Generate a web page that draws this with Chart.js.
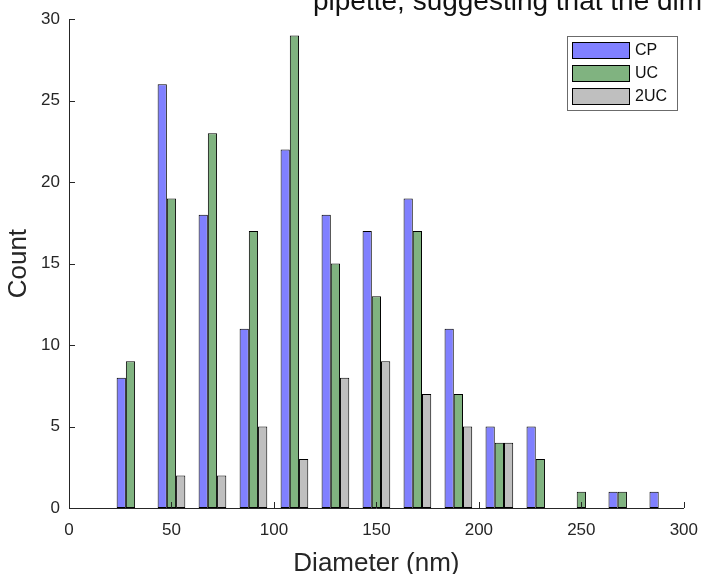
<!DOCTYPE html>
<html>
<head>
<meta charset="utf-8">
<style>
html,body{margin:0;padding:0;background:#fff;}
#wrap{width:710px;height:574px;position:relative;overflow:hidden;}
</style>
<script src="https://cdn.jsdelivr.net/npm/chart.js@4.4.1/dist/chart.umd.min.js"></script>
</head>
<body>
<div id="wrap"><canvas id="c" width="710" height="574"></canvas></div>
<script>
// ---- data ----
const binCenters = [10, 30, 50, 70, 90, 110, 130, 150, 170, 190, 210, 230, 250, 270, 290];
const cpCounts   = [0, 8, 26, 18, 11, 22, 18, 17, 19, 11, 5, 5, 0, 1, 1];
const ucCounts   = [0, 9, 19, 23, 17, 29, 15, 13, 17, 7, 4, 3, 1, 1, 0];
const uc2Counts  = [0, 0, 2, 2, 5, 3, 8, 9, 7, 5, 4, 0, 0, 0, 0];
const seriesNames = ['CP', 'UC', '2UC'];
const xTickValues = [0, 50, 100, 150, 200, 250, 300];
const yTickValues = [0, 5, 10, 15, 20, 25, 30];
const xTitle = 'Diameter (nm)';
const yTitle = 'Count';
const topText = 'pipette, suggesting that the dim';

// ---- styles ----
const FONT = "'Liberation Sans', Arial, Helvetica, sans-serif";
const axisColor = '#262626';
const fills = ['#8080ff', '#80b380', '#bfbfbf'];

function toPoints(vals) { return binCenters.map((c, i) => ({ x: c, y: vals[i] })); }

const decor = {
  id: 'decor',
  afterDraw(chart) {
    const { ctx, chartArea: a, scales: { x, y } } = chart;
    ctx.save();
    // inward ticks
    ctx.strokeStyle = axisColor;
    ctx.lineWidth = 1;
    ctx.beginPath();
    yTickValues.forEach(v => {
      const p = Math.round(y.getPixelForValue(v)) + 0.5;
      ctx.moveTo(a.left, p); ctx.lineTo(a.left + 6, p);
    });
    xTickValues.forEach(v => {
      const p = Math.round(x.getPixelForValue(v)) + 0.5;
      ctx.moveTo(p, a.bottom); ctx.lineTo(p, a.bottom - 6);
    });
    ctx.stroke();

    // axis titles
    ctx.fillStyle = axisColor;
    ctx.font = '26px ' + FONT;
    ctx.textAlign = 'center';
    ctx.textBaseline = 'alphabetic';
    ctx.fillText(xTitle, (a.left + a.right) / 2, 571);
    ctx.save();
    ctx.translate(26, (a.top + a.bottom) / 2);
    ctx.rotate(-Math.PI / 2);
    ctx.fillText(yTitle, 0, 0);
    ctx.restore();

    // clipped text at top
    ctx.fillStyle = '#111';
    ctx.font = '28px ' + FONT;
    ctx.textAlign = 'left';
    ctx.fillText(topText, 313, 10);

    // legend
    ctx.fillStyle = '#fff';
    ctx.fillRect(567.5, 36.5, 110, 74);
    ctx.strokeStyle = '#6b6b6b';
    ctx.strokeRect(567.5, 36.5, 110, 74);
    ctx.font = '16px ' + FONT;
    ctx.textBaseline = 'middle';
    seriesNames.forEach((n, i) => {
      const top = 42.5 + i * 23;
      ctx.fillStyle = fills[i];
      ctx.fillRect(572.5, top, 57, 16);
      ctx.strokeStyle = '#000';
      ctx.strokeRect(572.5, top, 57, 16);
      ctx.fillStyle = '#111';
      ctx.fillText(n, 635, top + 8.5);
    });
    ctx.restore();
  }
};

const dsCommon = {
  borderColor: '#000',
  borderWidth: 1,
  borderSkipped: false,
  categoryPercentage: 0.675,
  barPercentage: 1.0
};

new Chart(document.getElementById('c'), {
  type: 'bar',
  data: {
    datasets: [
      Object.assign({ label: seriesNames[0], data: toPoints(cpCounts), backgroundColor: fills[0] }, dsCommon),
      Object.assign({ label: seriesNames[1], data: toPoints(ucCounts), backgroundColor: fills[1] }, dsCommon),
      Object.assign({ label: seriesNames[2], data: toPoints(uc2Counts), backgroundColor: fills[2] }, dsCommon)
    ]
  },
  options: {
    responsive: false,
    animation: false,
    devicePixelRatio: 1,
    layout: { padding: { top: 17, right: 17, left: 0, bottom: 0 } },
    plugins: { legend: { display: false }, tooltip: { enabled: false } },
    scales: {
      x: {
        type: 'linear',
        min: 0, max: 300,
        offset: false,
        grid: { display: false, drawTicks: false, offset: false },
        border: { display: true, color: axisColor, width: 1 },
        afterBuildTicks: s => { s.ticks = xTickValues.map(v => ({ value: v })); },
        afterFit: s => { s.height = 66; },
        ticks: { color: axisColor, font: { family: FONT, size: 17 }, padding: 12, maxRotation: 0, autoSkip: false }
      },
      y: {
        type: 'linear',
        min: 0, max: 30,
        grid: { display: false, drawTicks: false },
        border: { display: true, color: axisColor, width: 1 },
        afterBuildTicks: s => { s.ticks = yTickValues.map(v => ({ value: v })); },
        afterFit: s => { s.width = 69; },
        ticks: { color: axisColor, font: { family: FONT, size: 17 }, padding: 9 }
      }
    }
  },
  plugins: [decor]
});
</script>
</body>
</html>
